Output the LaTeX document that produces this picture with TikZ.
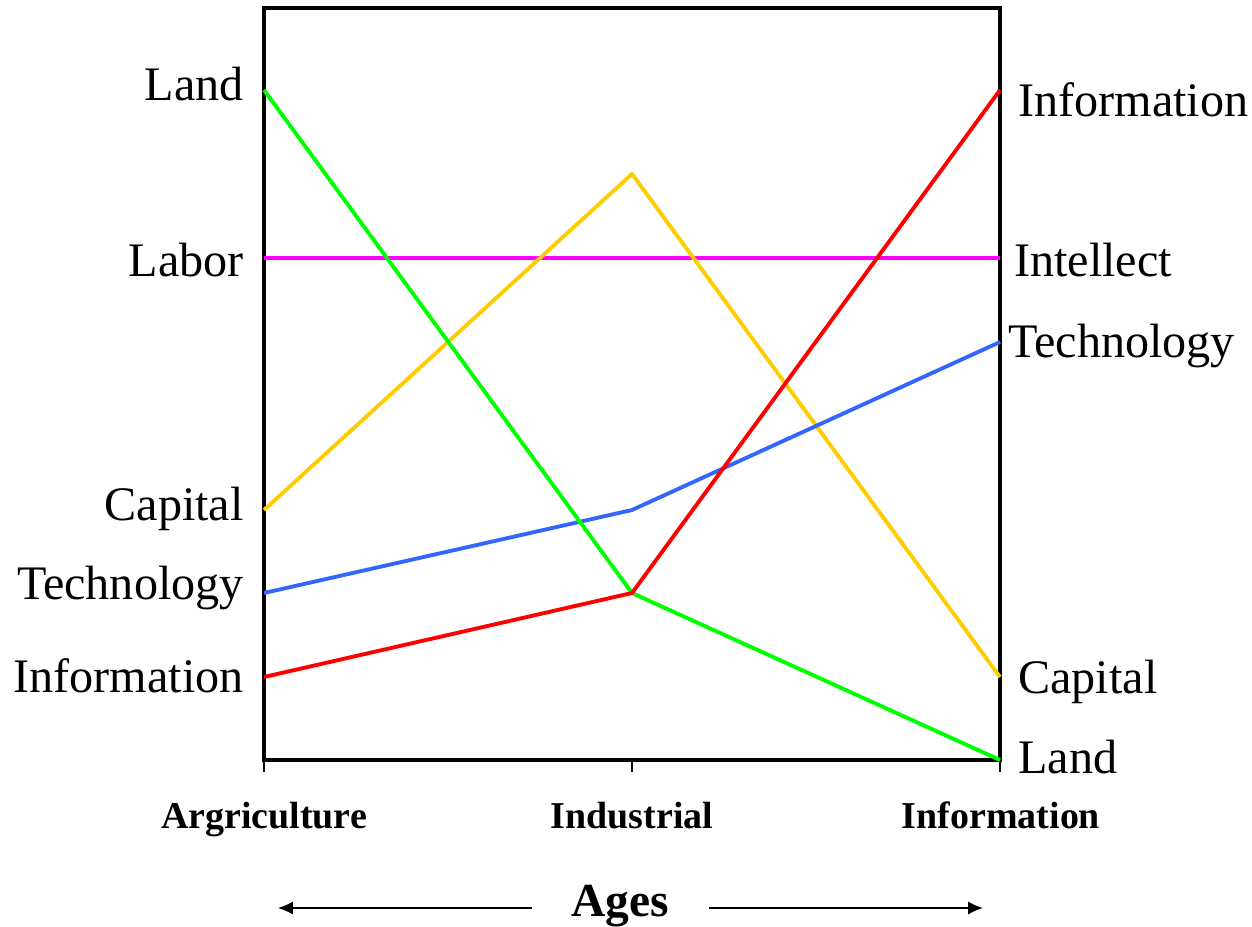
\documentclass[tikz,border=0pt]{standalone}
\usepackage{fontspec}
\setmainfont{Liberation Serif}
\usetikzlibrary{arrows.meta,positioning}
\definecolor{landgreen}{RGB}{0,255,0}
\definecolor{capyellow}{RGB}{255,204,0}
\definecolor{labmagenta}{RGB}{255,0,255}
\definecolor{techblue}{RGB}{51,102,255}
\definecolor{infored}{RGB}{255,0,0}

\begin{document}
\begin{tikzpicture}[x=0.02cm, y=-0.02cm,
  factor/.style={inner sep=0pt, font=\fontsize{27.4}{30}\selectfont},
  agename/.style={inner sep=0pt, font=\fontsize{21.6}{24}\selectfont\bfseries},
  trend/.style={line width=2.2pt, line join=round}]
  \useasboundingbox (0,0) rectangle (1252,927);
  % frame and ticks
  \draw[line width=2.3pt] (264,8) rectangle (1000,760);
  \foreach \x in {264,632,1000}
    \draw[line width=0.6pt] (\x,760) -- (\x,772);
  % factor lines across the three ages
  \foreach \name/\ya/\yb/\yc/\col in {labor/258/258/258/labmagenta, capital/510/174/677/capyellow, tech/593/510/342/techblue, land/90/593/760/landgreen, info/677/593/90/infored} {
    \coordinate (\name-a) at (264,\ya);
    \coordinate (\name-b) at (632,\yb);
    \coordinate (\name-c) at (1000,\yc);
    \draw[trend, \col] (\name-a) -- (\name-b) -- (\name-c);
  }
  % left and right labels
  \foreach \txt/\y in {Land/100, Labor/276, Capital/520, Technology/599, Information/692}
    \node[factor, anchor=base east] (left-\y) at (244,\y) {\txt};
  \foreach \txt/\x/\y in {Information/1018/116, Intellect/1014/276, Technology/1008/357, Capital/1018/693, Land/1018/773}
    \node[factor, anchor=base west] (right-\y) at (\x,\y) {\txt};
  % ages
  \foreach \txt/\x in {Argriculture/264, Industrial/632, Information/1001}
    \node[agename, anchor=base] (age-\x) at (\x,828) {\txt};
  \node[inner sep=0pt, anchor=base, font=\fontsize{27}{30}\selectfont\bfseries] (ages) at (620,916) {Ages};
  \coordinate (ages-l) at (532,908);
  \coordinate (ages-lend) at (278,908);
  \coordinate (ages-r) at (709,908);
  \coordinate (ages-rend) at (983,908);
  \draw[line width=0.9pt, -{Latex[length=8.5pt,width=7.5pt]}] (ages-l) -- (ages-lend);
  \draw[line width=0.9pt, -{Latex[length=8.5pt,width=7.5pt]}] (ages-r) -- (ages-rend);
\end{tikzpicture}
\end{document}
